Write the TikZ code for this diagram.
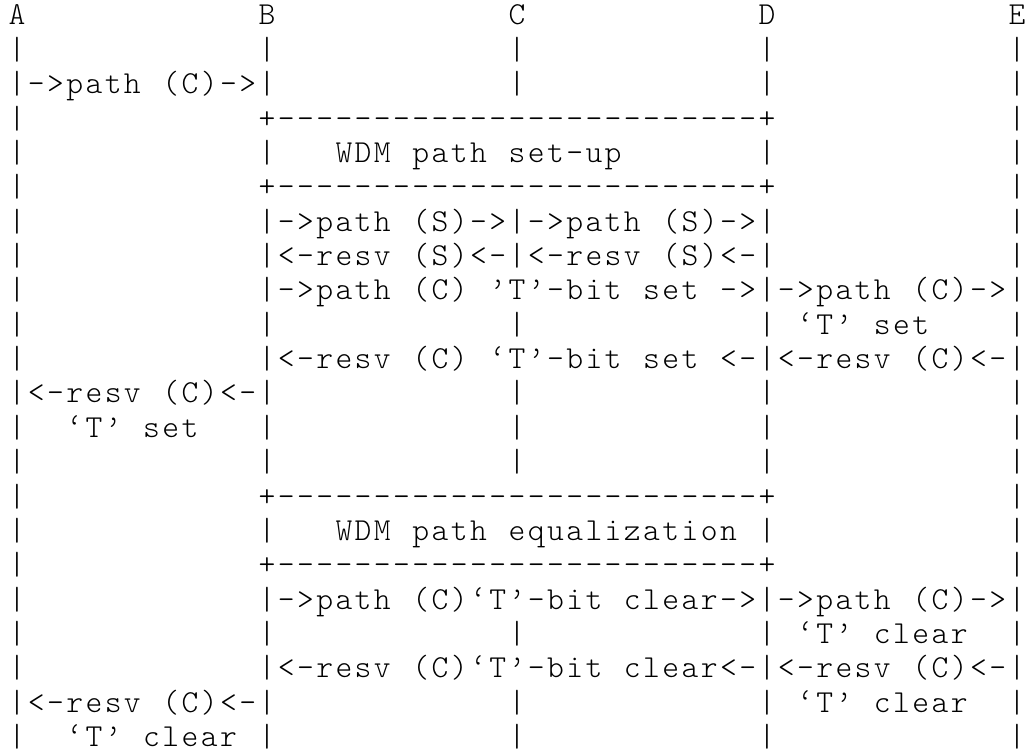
\documentclass[tikz,border=0pt]{standalone}
\usepackage{fontspec}
\setmonofont{lmmonolt10-regular.otf}
\tikzset{ch/.style={anchor=base, inner sep=0pt, outer sep=0pt, text=black, font=\ttfamily\fontsize{9.6pt}{10pt}\selectfont}}
\ExplSyntaxOn
\int_new:N \l_asc_col_int
\tl_new:N \l_asc_x_tl
\tl_new:N \l_asc_y_tl
\tl_new:N \l_asc_name_tl
\NewDocumentCommand \ascrow { m m m }
  {
    \int_set:Nn \l_asc_col_int { #2 }
    \tl_set:Nx \l_asc_y_tl { \fp_eval:n { 25 + 34.36 * ( #1 - 1 ) } }
    \str_map_inline:nn { #3 }
      {
        \str_if_eq:nnF { ##1 } { ~ }
          {
            \tl_set:Nx \l_asc_x_tl { \fp_eval:n { 17 + 19.23 * \l_asc_col_int } }
            \tl_set:Nx \l_asc_name_tl { L#1c \int_use:N \l_asc_col_int }
            \node [ch] (\l_asc_name_tl) at (\l_asc_x_tl, \l_asc_y_tl) {##1};
          }
        \int_incr:N \l_asc_col_int
      }
  }
\NewDocumentCommand \ascbars { m m }
  {
    \clist_map_inline:nn { #2 } { \ascrow { #1 } { ##1 } { | } }
  }
\ExplSyntaxOff
\begin{document}
\begin{tikzpicture}[x=0.3pt,y=-0.3pt]
\useasboundingbox[fill=white] (0,0) rectangle (1028,756);
% line 1
\ascrow{1}{0}{A}\ascrow{1}{13}{B}\ascrow{1}{26}{C}\ascrow{1}{39}{D}\ascrow{1}{52}{E}
% line 2
\ascbars{2}{0,13,26,39,52}
% line 3
\ascrow{3}{0}{|->path (C)->|}\ascbars{3}{26,39,52}
% line 4
\ascbars{4}{0,52}\ascrow{4}{13}{+-------------------------+}
% line 5
\ascbars{5}{0,13,39,52}\ascrow{5}{17}{WDM path set-up}
% line 6
\ascbars{6}{0,52}\ascrow{6}{13}{+-------------------------+}
% line 7
\ascbars{7}{0,52}\ascrow{7}{13}{|->path (S)->|->path (S)->|}
% line 8
\ascbars{8}{0,52}\ascrow{8}{13}{|<-resv (S)<-|<-resv (S)<-|}
% line 9
\ascbars{9}{0}\ascrow{9}{13}{|->path (C) ’T’-bit set ->|->path (C)->|}
% line 10
\ascbars{10}{0,13,26,39,52}\ascrow{10}{41}{‘T’ set}
% line 11
\ascbars{11}{0}\ascrow{11}{13}{|<-resv (C) ‘T’-bit set <-|<-resv (C)<-|}
% line 12
\ascrow{12}{0}{|<-resv (C)<-|}\ascbars{12}{26,39,52}
% line 13
\ascbars{13}{0,13,26,39,52}\ascrow{13}{3}{‘T’ set}
% line 14
\ascbars{14}{0,13,26,39,52}
% line 15
\ascbars{15}{0,52}\ascrow{15}{13}{+-------------------------+}
% line 16
\ascbars{16}{0,13,39,52}\ascrow{16}{17}{WDM path equalization}
% line 17
\ascbars{17}{0,52}\ascrow{17}{13}{+-------------------------+}
% line 18
\ascbars{18}{0}\ascrow{18}{13}{|->path (C)‘T’-bit clear->|->path (C)->|}
% line 19
\ascbars{19}{0,13,26,39,52}\ascrow{19}{41}{‘T’ clear}
% line 20
\ascbars{20}{0}\ascrow{20}{13}{|<-resv (C)‘T’-bit clear<-|<-resv (C)<-|}
% line 21
\ascrow{21}{0}{|<-resv (C)<-|}\ascbars{21}{26,39,52}\ascrow{21}{41}{‘T’ clear}
% line 22
\ascbars{22}{0,13,26,39,52}\ascrow{22}{3}{‘T’ clear}
\end{tikzpicture}
\end{document}
